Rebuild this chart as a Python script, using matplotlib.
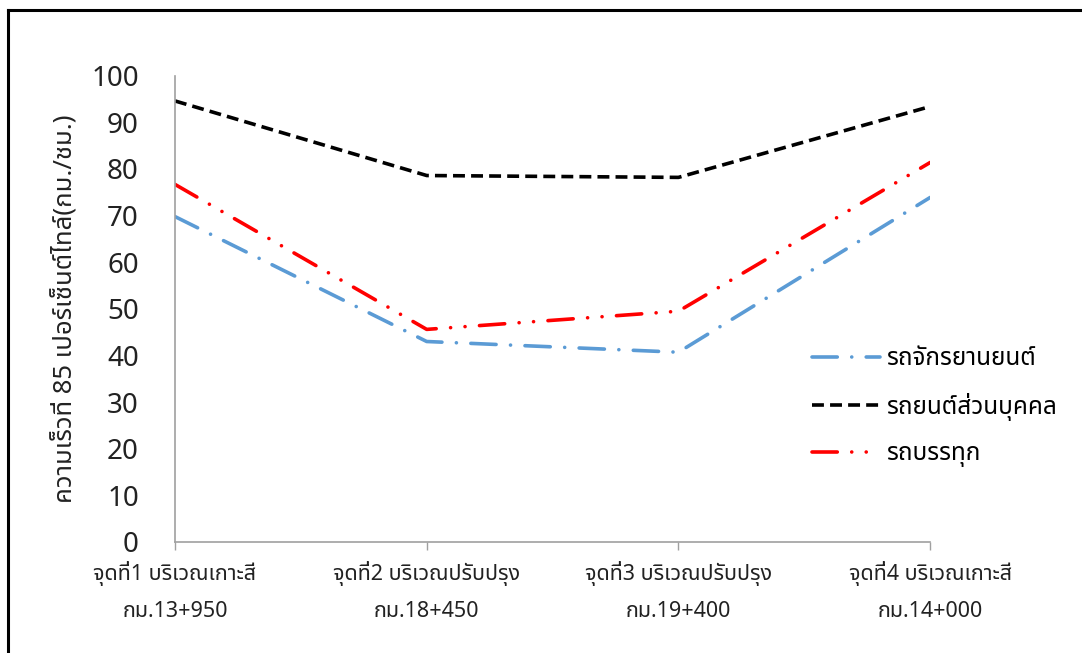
import matplotlib
matplotlib.use('Agg')
import matplotlib.pyplot as plt
from matplotlib.lines import Line2D

plt.rcParams['font.family'] = ['Noto Sans Thai', 'DejaVu Sans']

# 85th percentile speeds at the four survey points
points = ['จุดที่1 บริเวณเกาะสี\nกม.13+950',
          'จุดที่2 บริเวณปรับปรุง\nกม.18+450',
          'จุดที่3 บริเวณปรับปรุง\nกม.19+400',
          'จุดที่4 บริเวณเกาะสี\nกม.14+000']
motorcycle = [69.8, 43.0, 40.7, 73.9]
private_car = [94.6, 78.6, 78.2, 93.4]
truck = [76.7, 45.6, 49.5, 81.4]
series_names = ['รถจักรยานยนต์', 'รถยนต์ส่วนบุคคล', 'รถบรรทุก']
yticks = [0, 10, 20, 30, 40, 50, 60, 70, 80, 90, 100]

fig = plt.figure(figsize=(10.82, 6.53), dpi=100)
ax = fig.add_axes([0.1617, 0.17, 0.698, 0.714])

x = range(len(points))
lw = 2.6
l1, = ax.plot(x, motorcycle, color='#5B9BD5', lw=lw, dash_capstyle='round',
              label=series_names[0])
l1.set_dashes([7.0, 4.0, 0.01, 4.0])
l2, = ax.plot(x, private_car, color='black', lw=lw, dash_capstyle='butt',
              label=series_names[1])
l2.set_dashes([3.3, 1.7])
l3, = ax.plot(x, truck, color='#FF0000', lw=lw, dash_capstyle='round',
              label=series_names[2])
l3.set_dashes([7.0, 4.0, 0.01, 4.0, 0.01, 4.0])

ax.set_xlim(0, 3)
ax.set_ylim(0, 100)
ax.set_yticks(yticks)
ax.set_xticks(list(x))
ax.set_xticklabels(points, fontsize=15.5, linespacing=1.9)
ax.tick_params(axis='y', length=0, labelsize=20, pad=26, colors='#222222')
ax.tick_params(axis='x', length=6, width=1, color='#A0A0A0', pad=8,
               labelcolor='#222222')
for s in ['top', 'right']:
    ax.spines[s].set_visible(False)
for s in ['left', 'bottom']:
    ax.spines[s].set_color('#A0A0A0')
    ax.spines[s].set_linewidth(1.2)

ax.set_ylabel('ความเร็วที่ 85 เปอร์เซ็นต์ไทล์(กม./ชม.)', fontsize=18.5,
              color='#222222', labelpad=9)

ax.legend(handles=[l1, l2, l3], loc='upper left', bbox_to_anchor=(0.83, 0.438),
          frameon=False, fontsize=17.5, handlelength=2.8, handletextpad=0.25,
          labelspacing=0.88, borderaxespad=0)

# outer frame of the chart area
fig.add_artist(Line2D([8 / 1082, 8 / 1082], [0, 1 - 10 / 653],
                      transform=fig.transFigure, color='black', lw=2.2))
fig.add_artist(Line2D([8 / 1082, 1], [1 - 10 / 653, 1 - 10 / 653],
                      transform=fig.transFigure, color='black', lw=2.2))

fig.savefig('out.png')
